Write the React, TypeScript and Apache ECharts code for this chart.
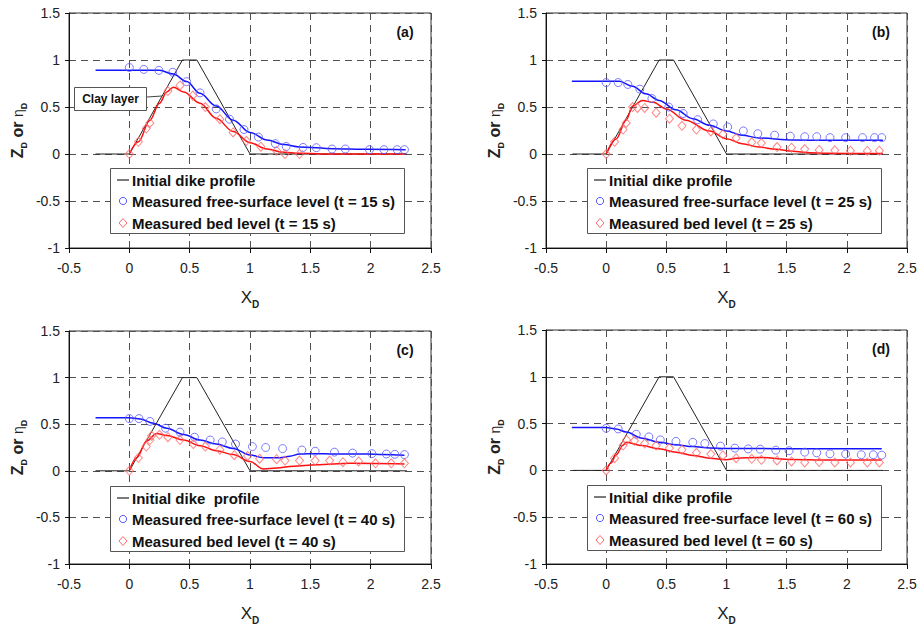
import React, { useEffect, useRef } from "react";
import * as echarts from "echarts";

// ---------- data ----------
const panelTags = ["(a)", "(b)", "(c)", "(d)"];
const times = ["15", "25", "40", "60"];
const dikeLabels = ["Initial dike profile", "Initial dike profile", "Initial dike  profile", "Initial dike profile"];
const xTicks = [-0.5, 0, 0.5, 1, 1.5, 2, 2.5];
const yTicks = [-1, -0.5, 0, 0.5, 1, 1.5];

const dikeX = [-0.28, 0, 0.44, 0.56, 1.0, 2.3];
const dikeY = [0, 0, 1, 1, 0, 0];

// (a) t = 15 s
const aSurfLineX = [-0.28, 0.25, 0.365, 0.475, 0.586, 0.72, 0.86, 1.0, 1.14, 1.28, 1.41, 1.69, 1.97, 2.29];
const aSurfLineY = [0.89, 0.89, 0.85, 0.77, 0.645, 0.51, 0.36, 0.23, 0.15, 0.1, 0.075, 0.057, 0.05, 0.046];
const aBedLineX = [0, 0.075, 0.17, 0.25, 0.31, 0.365, 0.45, 0.586, 0.72, 0.86, 1.0, 1.14, 1.28, 1.41, 1.69, 2.29];
const aBedLineY = [0, 0.13, 0.36, 0.54, 0.66, 0.71, 0.66, 0.54, 0.38, 0.24, 0.12, 0.053, 0.018, 0.007, 0, 0];
const aSurfPtsX = [0, 0.12, 0.245, 0.36, 0.475, 0.586, 0.72, 0.83, 0.95, 1.07, 1.21, 1.3, 1.44, 1.55, 1.68, 1.79, 1.99, 2.11, 2.22, 2.28];
const aSurfPtsY = [0.92, 0.9, 0.89, 0.87, 0.77, 0.65, 0.48, 0.37, 0.26, 0.18, 0.11, 0.08, 0.07, 0.067, 0.053, 0.053, 0.046, 0.046, 0.046, 0.046];
const aBedPtsX = [0, 0.075, 0.14, 0.17, 0.32, 0.42, 0.525, 0.63, 0.75, 0.86, 0.97, 1.09, 1.22, 1.29, 1.41];
const aBedPtsY = [0, 0.13, 0.27, 0.33, 0.67, 0.73, 0.62, 0.5, 0.37, 0.23, 0.14, 0.078, 0.035, 0, 0];

// (b) t = 25 s
const bSurfLineX = [-0.285, 0.11, 0.22, 0.33, 0.44, 0.58, 0.72, 0.86, 1.0, 1.13, 1.27, 1.55, 1.83, 2.3];
const bSurfLineY = [0.773, 0.773, 0.72, 0.64, 0.57, 0.47, 0.376, 0.305, 0.245, 0.2, 0.17, 0.149, 0.145, 0.145];
const bBedLineX = [0, 0.083, 0.166, 0.22, 0.3, 0.39, 0.5, 0.66, 0.86, 1.0, 1.13, 1.27, 1.41, 1.55, 1.69, 1.83, 2.3];
const bBedLineY = [0, 0.16, 0.36, 0.51, 0.57, 0.55, 0.48, 0.36, 0.245, 0.163, 0.11, 0.074, 0.05, 0.028, 0.014, 0.007, 0.004];
const bSurfPtsX = [0, 0.1, 0.18, 0.28, 0.38, 0.52, 0.64, 0.76, 0.89, 1.01, 1.14, 1.26, 1.4, 1.53, 1.65, 1.75, 1.86, 1.99, 2.13, 2.23, 2.29];
const bSurfPtsY = [0.76, 0.76, 0.74, 0.69, 0.59, 0.5, 0.43, 0.365, 0.32, 0.287, 0.245, 0.216, 0.2, 0.19, 0.184, 0.184, 0.174, 0.174, 0.174, 0.174, 0.174];
const bBedPtsX = [0, 0.07, 0.14, 0.166, 0.22, 0.26, 0.32, 0.415, 0.526, 0.63, 0.75, 0.87, 0.97, 1.08, 1.21, 1.29, 1.42, 1.54, 1.65, 1.77, 1.9, 2.03, 2.17, 2.27];
const bBedPtsY = [0, 0.13, 0.26, 0.33, 0.5, 0.49, 0.49, 0.44, 0.376, 0.3, 0.26, 0.24, 0.21, 0.17, 0.124, 0.117, 0.074, 0.067, 0.053, 0.043, 0.039, 0.035, 0.032, 0.035];

// (c) t = 40 s
const cSurfLineX = [-0.28, 0, 0.09, 0.2, 0.31, 0.45, 0.586, 0.72, 0.86, 1.0, 1.11, 1.25, 1.33, 1.41, 1.55, 1.69, 1.97, 2.1, 2.28];
const cSurfLineY = [0.57, 0.57, 0.557, 0.51, 0.457, 0.39, 0.33, 0.287, 0.24, 0.17, 0.14, 0.14, 0.156, 0.18, 0.184, 0.18, 0.18, 0.174, 0.167];
const cBedLineX = [0, 0.06, 0.144, 0.226, 0.31, 0.45, 0.586, 0.72, 0.86, 1.0, 1.11, 1.22, 1.36, 1.55, 1.83, 2.28];
const cBedLineY = [0, 0.14, 0.32, 0.4, 0.38, 0.33, 0.27, 0.216, 0.174, 0.1, 0.02, 0.03, 0.05, 0.064, 0.08, 0.074];
const cSurfPtsX = [0, 0.08, 0.17, 0.3, 0.42, 0.54, 0.67, 0.77, 0.88, 1.02, 1.13, 1.27, 1.43, 1.54, 1.7, 1.85, 2.01, 2.13, 2.2, 2.28];
const cSurfPtsY = [0.56, 0.56, 0.53, 0.457, 0.415, 0.36, 0.33, 0.31, 0.287, 0.26, 0.25, 0.238, 0.223, 0.21, 0.2, 0.19, 0.184, 0.18, 0.177, 0.174];
const cBedPtsX = [0, 0.075, 0.14, 0.17, 0.185, 0.25, 0.32, 0.42, 0.53, 0.63, 0.75, 0.87, 0.98, 1.08, 1.22, 1.29, 1.41, 1.54, 1.66, 1.77, 1.9, 2.04, 2.17, 2.28];
const cBedPtsY = [0, 0.14, 0.26, 0.33, 0.376, 0.386, 0.36, 0.33, 0.287, 0.26, 0.227, 0.167, 0.16, 0.13, 0.124, 0.11, 0.11, 0.11, 0.11, 0.092, 0.1, 0.08, 0.08, 0.08];

// (d) t = 60 s
const dSurfLineX = [-0.285, 0, 0.083, 0.166, 0.3, 0.44, 0.58, 0.72, 0.86, 1.0, 1.27, 1.55, 2.29];
const dSurfLineY = [0.457, 0.457, 0.443, 0.41, 0.344, 0.3, 0.273, 0.255, 0.238, 0.234, 0.234, 0.23, 0.23];
const dBedLineX = [0, 0.04, 0.083, 0.14, 0.166, 0.3, 0.44, 0.58, 0.72, 0.86, 1.0, 1.08, 1.27, 1.55, 1.83, 2.29];
const dBedLineY = [0, 0.078, 0.167, 0.27, 0.3, 0.266, 0.23, 0.195, 0.16, 0.13, 0.113, 0.13, 0.138, 0.117, 0.11, 0.11];
const dSurfPtsX = [0, 0.1, 0.25, 0.355, 0.45, 0.58, 0.72, 0.82, 0.95, 1.07, 1.18, 1.28, 1.41, 1.52, 1.65, 1.75, 1.86, 1.99, 2.12, 2.22, 2.29];
const dSurfPtsY = [0.45, 0.443, 0.386, 0.358, 0.326, 0.31, 0.3, 0.287, 0.259, 0.238, 0.23, 0.227, 0.216, 0.21, 0.195, 0.188, 0.177, 0.174, 0.167, 0.167, 0.163];
const dBedPtsX = [0, 0.07, 0.14, 0.17, 0.235, 0.32, 0.415, 0.526, 0.63, 0.75, 0.87, 0.97, 1.08, 1.21, 1.29, 1.42, 1.54, 1.65, 1.77, 1.9, 2.03, 2.17, 2.27];
const dBedPtsY = [0, 0.13, 0.266, 0.326, 0.316, 0.287, 0.266, 0.238, 0.22, 0.188, 0.174, 0.16, 0.13, 0.124, 0.113, 0.106, 0.096, 0.085, 0.089, 0.085, 0.085, 0.085, 0.085];

const panels = [
  { sLX: aSurfLineX, sLY: aSurfLineY, bLX: aBedLineX, bLY: aBedLineY, sPX: aSurfPtsX, sPY: aSurfPtsY, bPX: aBedPtsX, bPY: aBedPtsY },
  { sLX: bSurfLineX, sLY: bSurfLineY, bLX: bBedLineX, bLY: bBedLineY, sPX: bSurfPtsX, sPY: bSurfPtsY, bPX: bBedPtsX, bPY: bBedPtsY },
  { sLX: cSurfLineX, sLY: cSurfLineY, bLX: cBedLineX, bLY: cBedLineY, sPX: cSurfPtsX, sPY: cSurfPtsY, bPX: cBedPtsX, bPY: cBedPtsY },
  { sLX: dSurfLineX, sLY: dSurfLineY, bLX: dBedLineX, bLY: dBedLineY, sPX: dSurfPtsX, sPY: dSurfPtsY, bPX: dBedPtsX, bPY: dBedPtsY },
];

// ---------- layout / style ----------
const FONT = "'Liberation Sans', Arial, Helvetica, sans-serif";
const grids = [
  { left: 69, top: 13, width: 362, height: 235 },
  { left: 546, top: 13, width: 361, height: 235 },
  { left: 69, top: 331, width: 362, height: 236 },
  { left: 546, top: 330, width: 361, height: 236 },
];
const BLUE_LINE = "#1414ff";
const BLUE_MK = "#5a5aff";
const RED_LINE = "#ff1010";
const RED_MK = "#ff6a6a";

const zip = (xs: number[], ys: number[]) => xs.map((x, i) => [x, ys[i]]);

function buildOption() {
  const xAxis: any[] = [];
  const yAxis: any[] = [];
  const series: any[] = [];
  const graphic: any[] = [];

  grids.forEach((g, i) => {
    xAxis.push({
      type: "value",
      gridIndex: i,
      min: xTicks[0],
      max: xTicks[xTicks.length - 1],
      interval: 0.5,
      axisLine: { show: true, onZero: false, lineStyle: { color: "#111", width: 1 } },
      axisTick: { show: true, length: 5, lineStyle: { color: "#111" } },
      axisLabel: { fontSize: 14, color: "#222", fontFamily: FONT, margin: 13 },
      splitLine: { show: true, lineStyle: { type: [7, 5], color: "#505050", width: 1 } },
      name: "{x|X}{s|D}",
      nameLocation: "middle",
      nameGap: 38,
      nameTextStyle: {
        rich: {
          x: { fontSize: 17, fontFamily: FONT, color: "#222", lineHeight: 20, verticalAlign: "bottom" },
          s: { fontSize: 10, fontFamily: FONT, fontWeight: "bold", color: "#222", verticalAlign: "bottom", lineHeight: 20, padding: [0, 0, -3, 0] },
        },
      },
    });
    yAxis.push({
      type: "value",
      gridIndex: i,
      min: yTicks[0],
      max: yTicks[yTicks.length - 1],
      interval: 0.5,
      axisLine: { show: true, onZero: false, lineStyle: { color: "#111", width: 1 } },
      axisTick: { show: true, length: 4, lineStyle: { color: "#111" } },
      axisLabel: { fontSize: 14, color: "#222", fontFamily: FONT, margin: 9 },
      splitLine: { show: true, lineStyle: { type: [7, 5], color: "#505050", width: 1 } },
      name: "{z|Z}{s|D}{z| or }{e|\u03b7}{s|D}",
      nameLocation: "middle",
      nameRotate: 90,
      nameGap: 44,
      nameTextStyle: {
        rich: {
          z: { fontSize: 16, fontWeight: "bold", fontFamily: FONT, color: "#222", lineHeight: 20, verticalAlign: "bottom" },
          e: { fontSize: 14, fontFamily: FONT, color: "#222", lineHeight: 20, verticalAlign: "bottom" },
          s: { fontSize: 9, fontWeight: "bold", fontFamily: FONT, color: "#222", lineHeight: 20, verticalAlign: "bottom", padding: [0, 0, -3, 0] },
        },
      },
    });

    const p = panels[i];
    series.push({
      type: "line", xAxisIndex: i, yAxisIndex: i, data: zip(dikeX, dikeY), showSymbol: false,
      lineStyle: { color: "#222", width: 1 }, z: 3,
    });
    series.push({
      type: "line", xAxisIndex: i, yAxisIndex: i, data: zip(p.sLX, p.sLY), showSymbol: false,
      smooth: 0.35, smoothMonotone: "x", lineStyle: { color: BLUE_LINE, width: 1.5 }, z: 4,
    });
    series.push({
      type: "line", xAxisIndex: i, yAxisIndex: i, data: zip(p.bLX, p.bLY), showSymbol: false,
      smooth: 0.35, smoothMonotone: "x", lineStyle: { color: RED_LINE, width: 1.5 }, z: 4,
    });
    series.push({
      type: "scatter", xAxisIndex: i, yAxisIndex: i, data: zip(p.sPX, p.sPY), symbol: "circle", symbolSize: 8,
      itemStyle: { color: "rgba(255,255,255,0)", borderColor: BLUE_MK, borderWidth: 1 }, z: 5,
    });
    series.push({
      type: "scatter", xAxisIndex: i, yAxisIndex: i, data: zip(p.bPX, p.bPY), symbol: "diamond", symbolSize: [8, 9],
      itemStyle: { color: "rgba(255,255,255,0)", borderColor: RED_MK, borderWidth: 1 }, z: 5,
    });

    // panel tag
    graphic.push({
      type: "text", x: g.left + g.width - 26, y: g.top + 19, z: 10,
      style: { text: panelTags[i], font: `bold 14px ${FONT}`, fill: "#111", align: "center", verticalAlign: "middle", textAlign: "center", textVerticalAlign: "middle" },
    });

    // legend box
    const lx = g.left + 41;
    const ly = g.top + 155;
    const rows = [ly + 12, ly + 33, ly + 55];
    graphic.push({
      type: "rect", shape: { x: lx + 0.5, y: ly + 0.5, width: 294, height: 65 }, z: 10,
      style: { fill: "#fff", stroke: "#555", lineWidth: 1 },
    });
    graphic.push({ type: "line", shape: { x1: lx + 7, y1: rows[0], x2: lx + 19, y2: rows[0] }, z: 11, style: { stroke: "#222", lineWidth: 1.2 } });
    graphic.push({ type: "circle", shape: { cx: lx + 13, cy: rows[1], r: 3.6 }, z: 11, style: { fill: "none", stroke: BLUE_MK, lineWidth: 1 } });
    graphic.push({
      type: "polygon", z: 11,
      shape: { points: [[lx + 13, rows[2] - 4.5], [lx + 17, rows[2]], [lx + 13, rows[2] + 4.5], [lx + 9, rows[2]]] },
      style: { fill: "none", stroke: RED_MK, lineWidth: 1 },
    });
    const texts = [
      dikeLabels[i],
      `Measured free-surface level (t = ${times[i]} s)`,
      `Measured bed level (t = ${times[i]} s)`,
    ];
    texts.forEach((t, k) => {
      graphic.push({
        type: "text", x: lx + 22, y: rows[k], z: 11,
        style: { text: t, font: `bold 15px ${FONT}`, fill: "#111", align: "left", verticalAlign: "middle", textAlign: "left", textVerticalAlign: "middle" },
      });
    });
  });

  // Clay layer annotation in panel (a)
  graphic.push({
    type: "rect", shape: { x: 74.5, y: 87.5, width: 72, height: 23 }, z: 10,
    style: { fill: "#fff", stroke: "#555", lineWidth: 1 },
  });
  graphic.push({
    type: "text", x: 110.5, y: 99, z: 11,
    style: { text: "Clay layer", font: `bold 12px ${FONT}`, fill: "#111", align: "center", verticalAlign: "middle", textAlign: "center", textVerticalAlign: "middle" },
  });
  graphic.push({ type: "line", shape: { x1: 147, y1: 97, x2: 162, y2: 96 }, z: 11, style: { stroke: "#444", lineWidth: 1 } });

  return {
    animation: false,
    backgroundColor: "#ffffff",
    textStyle: { fontFamily: FONT },
    grid: grids.map((g) => ({ ...g, show: true, borderColor: "#333", borderWidth: 1, backgroundColor: "transparent", containLabel: false })),
    xAxis,
    yAxis,
    series,
    graphic,
  };
}

export default function App() {
  const ref = useRef<HTMLDivElement>(null);
  useEffect(() => {
    if (!ref.current) return;
    const chart = echarts.init(ref.current, undefined, { renderer: "svg" });
    chart.setOption(buildOption() as any);
    return () => chart.dispose();
  }, []);
  return (
    <div
      ref={ref}
      style={{ position: "absolute", left: 0, top: 0, width: 921, height: 626, background: "#fff" }}
    />
  );
}
